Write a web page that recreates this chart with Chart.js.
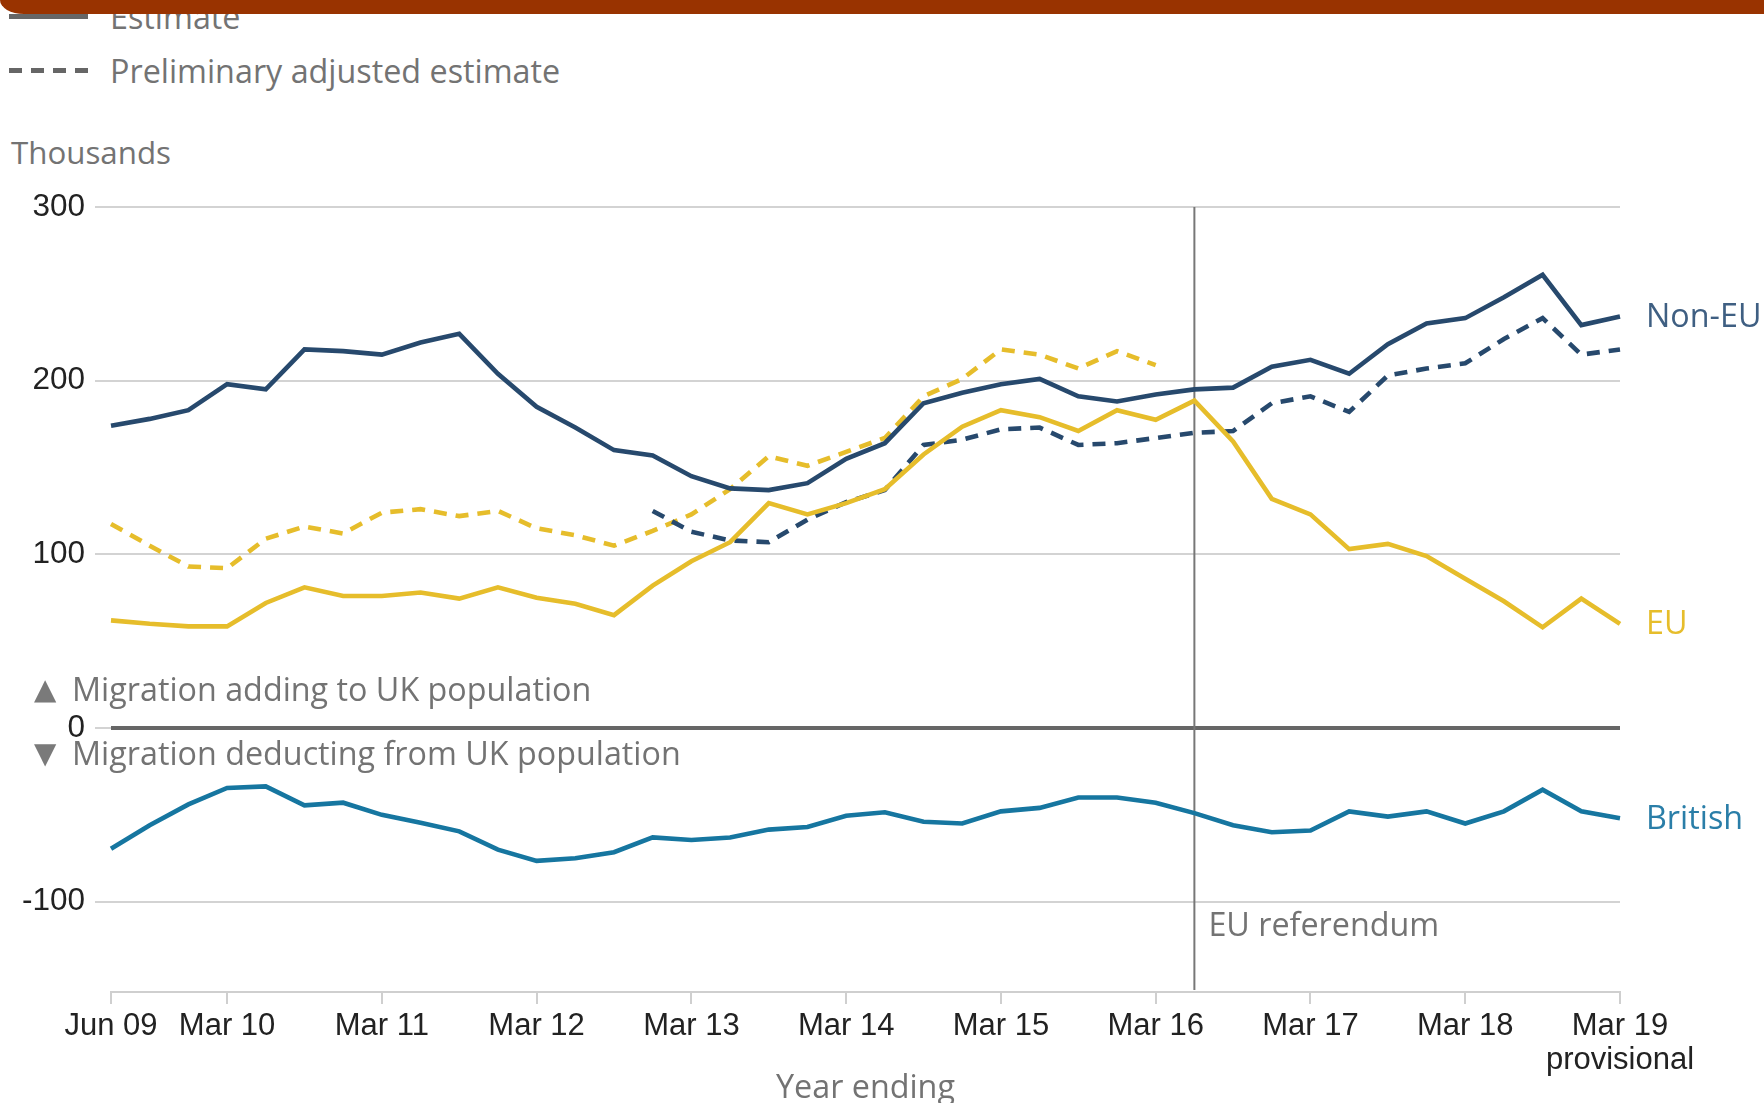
<!DOCTYPE html>
<html>
<head>
<meta charset="utf-8">
<script src="https://cdn.jsdelivr.net/npm/chart.js@4.4.0/dist/chart.umd.min.js"></script>
<style>
  html, body { margin: 0; padding: 0; background: #fff; overflow: hidden; }
  #wrap { position: relative; width: 1764px; height: 1103px; }
  #topbar { position: absolute; left: 0; top: 0; width: 1764px; height: 14px; background: #993300; border-bottom-left-radius: 24px 14px; z-index: 3; }
  .legend-row { position: absolute; left: 9px; height: 42px; display: flex; align-items: center;
    font-family: 'Open Sans', sans-serif; font-size: 32.3px; color: #737373; white-space: nowrap; }
  .swatch { width: 79px; height: 5px; margin-right: 22px; }
  .solid { background: #666; }
  .dashed { background: repeating-linear-gradient(to right, #666 0 13px, transparent 13px 22px); }
  #units { position: absolute; left: 11px; top: 131px; font-family: 'Open Sans', sans-serif; font-size: 31.3px; color: #737373; }
  canvas { position: absolute; left: 0; top: 0; }
</style>
</head>
<body>
<div id="wrap">
  <div id="topbar"></div>
  <div class="legend-row" style="top:-5px"><div class="swatch solid"></div>Estimate</div>
  <div class="legend-row" style="top:49px"><div class="swatch dashed"></div>Preliminary adjusted estimate</div>
  <div id="units">Thousands</div>
  <canvas id="migrationChart" width="1764" height="1103"></canvas>
</div>
<script>
// Long-term international migration by citizenship, thousands
const quarters = ['Jun 09', 'Sep 09', 'Dec 09', 'Mar 10', 'Jun 10', 'Sep 10', 'Dec 10', 'Mar 11', 'Jun 11', 'Sep 11',
    'Dec 11', 'Mar 12', 'Jun 12', 'Sep 12', 'Dec 12', 'Mar 13', 'Jun 13', 'Sep 13', 'Dec 13', 'Mar 14',
    'Jun 14', 'Sep 14', 'Dec 14', 'Mar 15', 'Jun 15', 'Sep 15', 'Dec 15', 'Mar 16', 'Jun 16', 'Sep 16',
    'Dec 16', 'Mar 17', 'Jun 17', 'Sep 17', 'Dec 17', 'Mar 18', 'Jun 18', 'Sep 18', 'Dec 18', 'Mar 19'];
const shownTicks = ['Jun 09', 'Mar 10', 'Mar 11', 'Mar 12', 'Mar 13', 'Mar 14', 'Mar 15', 'Mar 16', 'Mar 17', 'Mar 18', 'Mar 19'];
const lastTickNote = 'provisional';
const yTicks = [300, 200, 100, 0, -100];
const referendumAt = 'Jun 16';

const nonEu = [174, 178, 183, 198, 195, 218, 217, 215, 222, 227,
    204, 185, 173, 160, 157, 145, 138, 137, 141, 155,
    164, 187, 193, 198, 201, 191, 188, 192, 195, 196,
    208, 212, 204, 221, 233, 236, 248, 261, 232, 237];
const nonEuPrelim = [null, null, null, null, null, null, null, null, null, null,
    null, null, null, null, 125, 113, 108, 107, 120, 130,
    137, 163, 166, 172, 173, 163, 164, 167, 170, 171,
    187, 191, 182, 203, 207, 210, 224, 236, 215, 218];
const eu = [62, 60, 58.5, 58.5, 72, 81, 76, 76, 78, 74.5,
    81, 75, 71.5, 65, 82, 96, 107, 129.5, 123, 129.5,
    137.5, 157.5, 173.5, 183, 179, 171, 183, 177.5, 188.5, 165,
    132, 123, 103, 106, 99, 86, 73, 58, 74.5, 60];
const euPrelim = [117.5, 105, 93, 92, 109, 116, 112, 124, 126, 122,
    125, 115, 111, 105, 113.5, 123, 137.5, 156.5, 151, 159,
    167, 191, 201, 218, 215, 207, 217, 209, null, null,
    null, null, null, null, null, null, null, null, null, null];
const british = [-69.5, -56, -44, -34.5, -33.6, -44.5, -43, -50, -54.5, -59.5,
    -70, -76.5, -75, -71.5, -63, -64.5, -63, -58.5, -57, -50.5,
    -48.5, -54, -55, -48, -46, -40, -40, -43, -49, -56,
    -60, -59, -48, -51, -48, -55, -48, -35.5, -48, -52];

const NAVY = '#27496d';
const YELLOW = '#e6bd2b';
const TEAL = '#1676a0';
const GREY_TEXT = '#737373';
const LABEL_FONT = "32.3px 'Open Sans', 'DejaVu Sans', sans-serif";

const annotations = {
    id: 'annotations',
    beforeDatasetsDraw(chart) {
        const { ctx, chartArea, scales } = chart;
        const x = scales.x.getPixelForValue(quarters.indexOf(referendumAt));
        ctx.save();
        ctx.strokeStyle = '#777';
        ctx.lineWidth = 2;
        ctx.beginPath();
        ctx.moveTo(x, chartArea.top);
        ctx.lineTo(x, chartArea.bottom - 2);
        ctx.stroke();
        ctx.restore();
    },
    afterDraw(chart) {
        const { ctx, chartArea, scales } = chart;
        const y = scales.y;
        const last = quarters.length - 1;
        ctx.save();
        ctx.font = LABEL_FONT;
        ctx.textBaseline = 'middle';
        ctx.textAlign = 'left';

        // series labels next to the last points
        const labelX = chartArea.right + 26;
        [['Non-EU', nonEu[last], '#3f5f82'], ['EU', eu[last], YELLOW], ['British', british[last], '#2a7ea8']]
            .forEach(([text, v, color]) => {
                ctx.fillStyle = color;
                ctx.fillText(text, labelX, y.getPixelForValue(v) + 1);
            });

        // direction notes around the zero line
        const zero = y.getPixelForValue(0);
        ctx.fillStyle = GREY_TEXT;
        ctx.fillText('Migration adding to UK population', chartArea.left - 39, zero - 36);
        ctx.fillText('Migration deducting from UK population', chartArea.left - 39, zero + 28);
        ctx.fillStyle = '#7a7a7a';
        ctx.font = "29px 'DejaVu Sans', sans-serif";
        ctx.fillText('\u25B2', chartArea.left - 77, zero - 37);
        ctx.fillText('\u25BC', chartArea.left - 77, zero + 27);

        // referendum note
        ctx.font = LABEL_FONT;
        ctx.fillStyle = GREY_TEXT;
        const refX = scales.x.getPixelForValue(quarters.indexOf(referendumAt));
        ctx.fillText('EU referendum', refX + 14, y.getPixelForValue(-100) + 25);

        // axis title
        ctx.textAlign = 'center';
        ctx.font = "32.3px 'Open Sans', sans-serif";
        ctx.fillText('Year ending', (chartArea.left + chartArea.right) / 2, 1089);
        ctx.restore();
    }
};

function lineSet(label, data, color, dashed) {
    return {
        label: label,
        data: data,
        borderColor: color,
        borderWidth: 4.6,
        borderDash: dashed ? [13, 9] : [],
        pointRadius: 0,
        tension: 0,
        fill: false,
        spanGaps: false
    };
}

new Chart(document.getElementById('migrationChart'), {
    type: 'line',
    data: {
        labels: quarters,
        datasets: [
            lineSet('British', british, TEAL, false),
            lineSet('Non-EU', nonEu, NAVY, false),
            lineSet('EU', eu, YELLOW, false),
            lineSet('Non-EU preliminary', nonEuPrelim, NAVY, true),
            lineSet('EU preliminary', euPrelim, YELLOW, true)
        ]
    },
    options: {
        responsive: false,
        animation: false,
        layout: { padding: { top: 207, right: 144, left: 0, bottom: 0 } },
        plugins: {
            legend: { display: false },
            tooltip: { enabled: false }
        },
        scales: {
            x: {
                type: 'category',
                offset: false,
                afterFit: (scale) => { scale.height = 111; },
                border: { display: true, color: '#cfcfcf', width: 2 },
                grid: {
                    drawOnChartArea: false,
                    drawTicks: true,
                    tickLength: 12,
                    lineWidth: 2,
                    color: (ctx) => shownTicks.includes(quarters[ctx.index]) ? '#cfcfcf' : 'rgba(0,0,0,0)',
                    tickColor: (ctx) => shownTicks.includes(quarters[ctx.index]) ? '#cfcfcf' : 'rgba(0,0,0,0)'
                },
                ticks: {
                    autoSkip: false,
                    maxRotation: 0,
                    padding: 5,
                    color: '#222',
                    font: { family: "'Liberation Sans', Arial, sans-serif", size: 31, lineHeight: 1.1 },
                    callback: function(value, index) {
                        const q = quarters[index];
                        if (!shownTicks.includes(q)) return '';
                        return index === quarters.length - 1 ? [q, lastTickNote] : q;
                    }
                }
            },
            y: {
                min: -152,
                max: 300,
                afterFit: (scale) => { scale.width = 111; },
                afterBuildTicks: (scale) => { scale.ticks = yTicks.map(v => ({ value: v })); },
                border: { display: false },
                grid: {
                    color: (ctx) => ctx.tick && ctx.tick.value === 0 ? '#666' : '#d3d3d3',
                    lineWidth: (ctx) => ctx.tick && ctx.tick.value === 0 ? 4 : 2,
                    tickColor: '#d3d3d3',
                    tickLength: 16,
                    tickWidth: 2
                },
                ticks: {
                    padding: 10,
                    color: '#222',
                    font: { family: "'Liberation Sans', Arial, sans-serif", size: 31.5 }
                }
            }
        }
    },
    plugins: [annotations]
});
</script>
</body>
</html>
